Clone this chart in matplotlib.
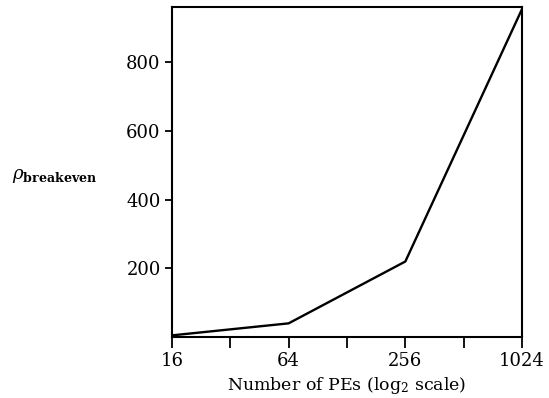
import numpy as np
import matplotlib
matplotlib.use('Agg')
import matplotlib.pyplot as plt
from matplotlib.ticker import FixedLocator, NullFormatter

# Datos
pes = [16, 64, 256, 1024]
rho = [5, 40, 220, 955]
xticks = [16, 64, 256, 1024]
xticks_menores = [32, 128, 512]
yticks = [200, 400, 600, 800]

plt.rcParams['font.family'] = 'DejaVu Serif'
plt.rcParams['mathtext.fontset'] = 'dejavuserif'

fig = plt.figure(figsize=(5.49, 3.98), dpi=100)
ax = fig.add_axes([0.313, 0.153, 0.638, 0.829])

ax.plot(pes, rho, color='black', lw=1.7)

ax.set_xscale('log', base=2)
ax.set_xlim(16, 1024)
ax.set_ylim(0, 960)
ax.xaxis.set_major_locator(FixedLocator(xticks))
ax.xaxis.set_minor_locator(FixedLocator(xticks_menores))
ax.xaxis.set_minor_formatter(NullFormatter())
ax.set_xticklabels([str(t) for t in xticks])
ax.set_yticks(yticks)

ax.tick_params(axis='both', which='both', direction='out', labelsize=13, width=1.3)
ax.tick_params(axis='x', which='both', length=8, pad=3)
ax.tick_params(axis='y', length=5, pad=3)
for s in ax.spines.values():
    s.set_linewidth(1.5)

ax.set_xlabel(r'Number of PEs (log$_2$ scale)', fontsize=12.5, labelpad=3)
fig.text(0.022, 0.55, r'$\rho_{\mathbf{breakeven}}$', fontsize=13)

fig.savefig('out.png', dpi=100)
